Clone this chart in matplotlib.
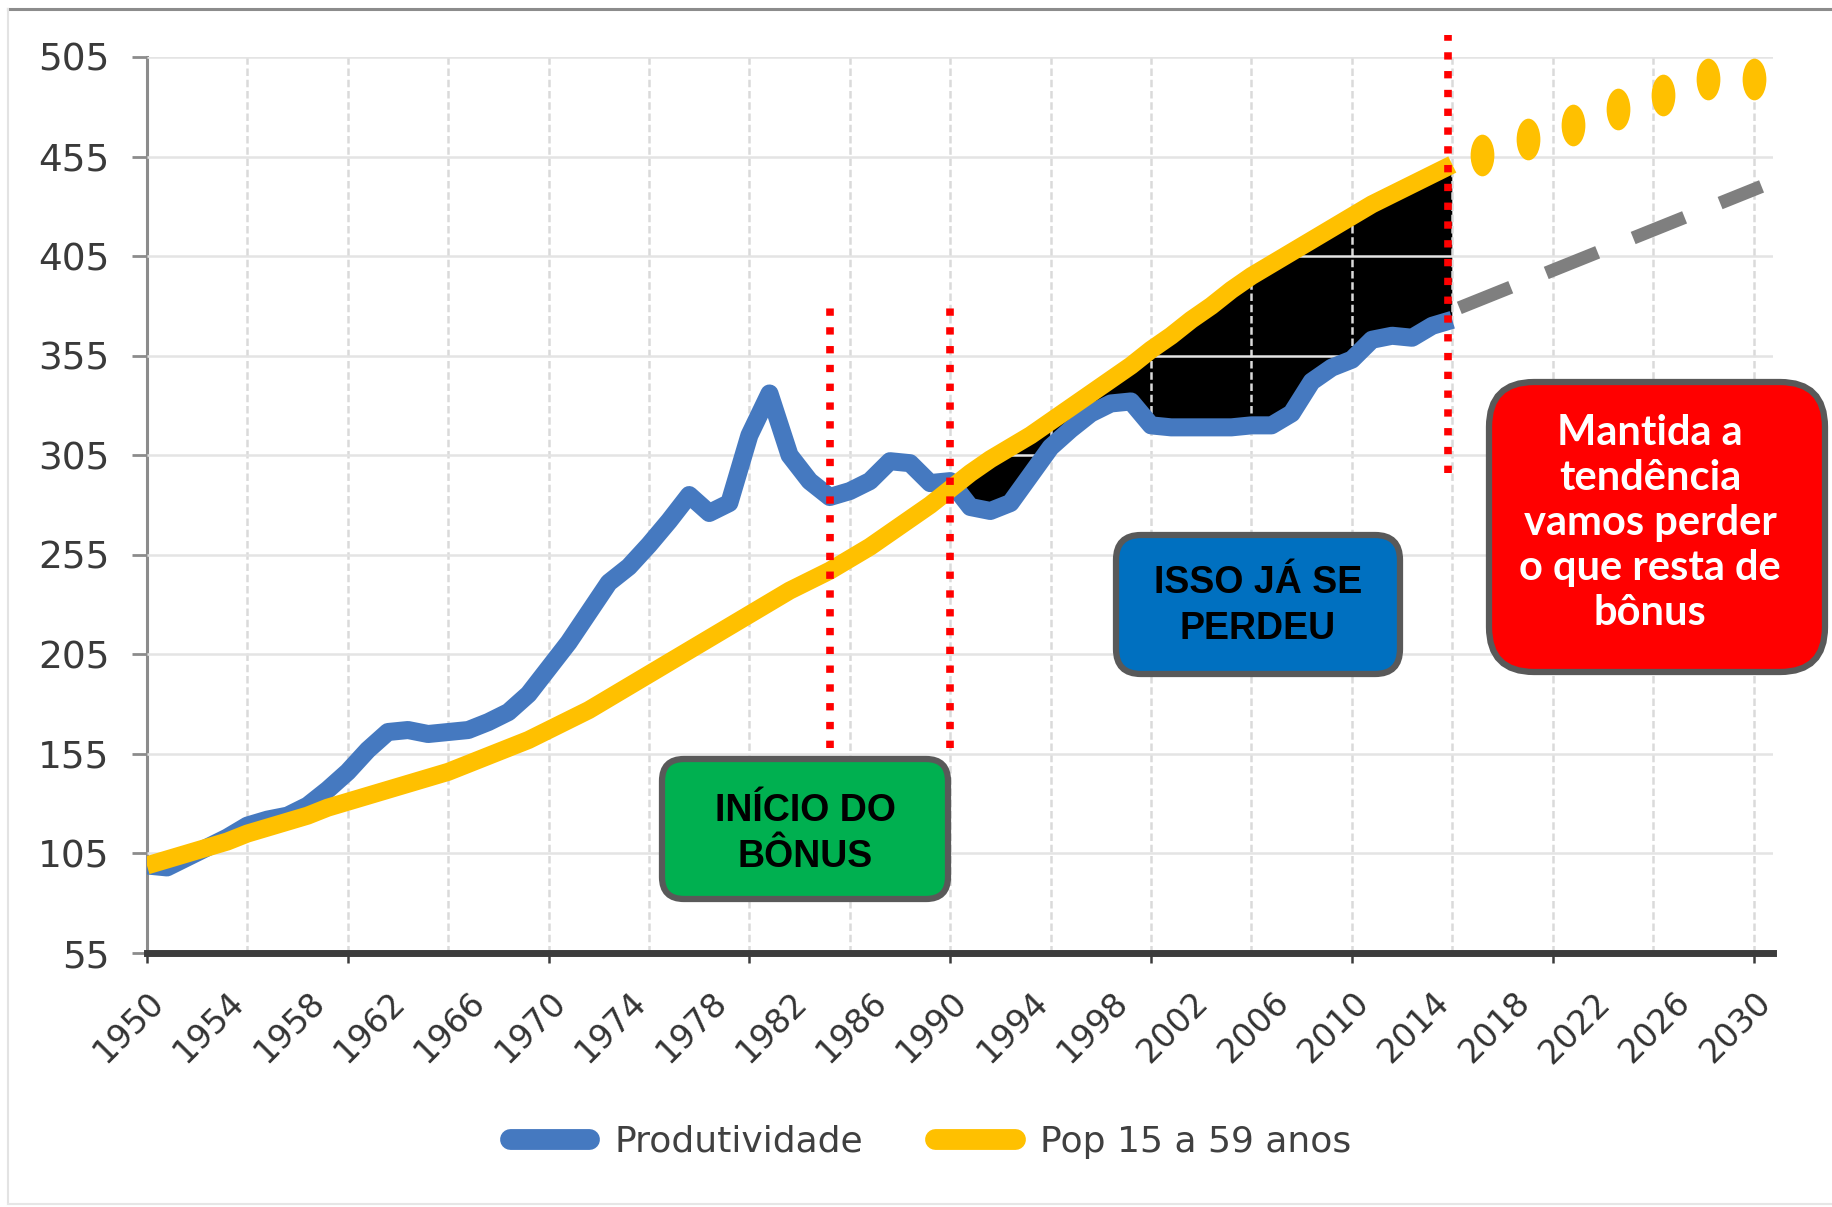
import numpy as np
import matplotlib
matplotlib.use("Agg")
import matplotlib.pyplot as plt
from matplotlib.patches import FancyBboxPatch
from matplotlib.path import Path
from matplotlib.lines import Line2D
import matplotlib.transforms as mtransforms

# ---------------- data ----------------
years = list(range(1950, 2016))
produtividade = [99, 98, 103, 108, 113, 119, 122, 124, 129, 137,
                 146, 157, 166, 167, 165, 166, 167, 171, 176, 185,
                 198, 211, 226, 241, 249, 260, 272, 285, 276, 281,
                 315, 336, 305, 292, 284, 287, 292, 302, 301, 291,
                 292, 279, 277, 281, 295, 309, 318, 326, 331, 332,
                 320, 319, 319, 319, 319, 320, 320, 326, 342, 349,
                 353, 363, 365, 364, 370, 373]
pop_15_59 = [99, 102, 105, 108, 111, 115, 118, 121, 124, 128,
             131, 134, 137, 140, 143, 146, 150, 154, 158, 162,
             167, 172, 177, 183, 189, 195, 201, 207, 213, 219,
             225, 231, 237, 242, 247, 253, 259, 266, 273, 280,
             288, 296, 303, 309, 315, 322, 329, 336, 343, 350,
             358, 365, 373, 380, 388, 395, 401, 407, 413, 419,
             425, 431, 436, 441, 446, 451]
proj_years = [2016.5, 2018.75, 2021, 2023.25, 2025.5, 2027.75, 2030]
proj_pop = [456, 464, 471, 479, 486, 494, 494]
trend_years = [2015.35, 2030.4]
trend_prod = [379, 440]
marker_years = [1984, 1990, 2014.8]
marker_spans = [(158, 379), (158, 379), (296, 516)]
y_ticks = list(range(55, 506, 50))
x_label_years = list(range(1950, 2031, 4))
x_major_years = list(range(1950, 2031, 10))
grid_years = list(range(1955, 2031, 5))

BLUE = '#4579c0'
YELLOW = '#ffc000'
GRAY = '#7f7f7f'

fig = plt.figure(figsize=(18.32, 12.07), dpi=100)
ax = fig.add_axes([0.0802, 0.2104, 0.8876, 0.7424])
ax.set_xlim(1950, 2030.97)
ax.set_ylim(55, 505)
ax.xaxis.remove_overlapping_locs = False

yrs = np.array(years)
prod = np.array(produtividade, dtype=float)
pop = np.array(pop_15_59, dtype=float)

# black area (bonus lost)
ax.fill_between(yrs, prod, pop, where=pop > prod, interpolate=True,
                color='black', lw=0, zorder=2)

# grid
ax.set_axisbelow(False)
ax.grid(axis='y', color='#e4e4e4', lw=1.8, zorder=2.5)
ax.grid(axis='x', visible=False)
ax.vlines(grid_years, 55, 505, colors='#dadada', linestyles=(0, (3, 1.5)),
          lw=1.8, zorder=2.5)

# series
ax.plot(yrs, prod, color=BLUE, lw=13, solid_joinstyle='round',
        solid_capstyle='butt', zorder=4)
ax.plot(yrs, pop, color=YELLOW, lw=13, solid_joinstyle='round',
        solid_capstyle='butt', zorder=5)

# projections
circ = Path.unit_circle()
ell = Path(circ.vertices * np.array([0.57, 1.0]), circ.codes)
ax.plot(proj_years, proj_pop, ls='none', marker=ell, ms=30, color=YELLOW,
        mec='none', clip_on=False, zorder=5)
ax.plot(trend_years, trend_prod, color=GRAY, lw=9.5, dashes=(4.2, 2.9),
        dash_capstyle='butt', clip_on=False, zorder=5)

# red dotted markers
for x, (y0, y1) in zip(marker_years, marker_spans):
    ax.plot([x, x], [y0, y1], color='#ff0000', lw=5.5, dashes=(0.96, 1.5),
            dash_capstyle='butt', clip_on=False, zorder=6)

# spines
for s in ['top', 'right']:
    ax.spines[s].set_visible(False)
ax.spines['left'].set_color('#8c8c8c')
ax.spines['left'].set_linewidth(2.2)
ax.spines['bottom'].set_color('#3c3c3c')
ax.spines['bottom'].set_linewidth(5)
ax.spines['bottom'].set_zorder(7)

# y ticks
ax.set_yticks(y_ticks)
ax.set_yticklabels([str(v) for v in y_ticks])
ax.tick_params(axis='y', length=11, width=2, color='#8c8c8c', pad=16,
               labelsize=27, labelcolor='#3a3a3a')

# x ticks: marks every 10 years, labels every 4 years
ax.set_xticks(x_major_years)
ax.set_xticklabels([])
ax.tick_params(axis='x', which='major', length=7, width=1.8, color='#3c3c3c',
               direction='out')
ax.set_xticks(x_label_years, minor=True)
ax.set_xticklabels([str(y) for y in x_label_years], minor=True)
ax.tick_params(axis='x', which='minor', length=0, pad=32, labelsize=24,
               labelcolor='#333333')
off = mtransforms.ScaledTranslation(0.12, 0, fig.dpi_scale_trans)
for lab in ax.get_xticklabels(minor=True):
    lab.set_rotation(45)
    lab.set_ha('right')
    lab.set_va('center')
    lab.set_rotation_mode('anchor')
    lab.set_transform(lab.get_transform() + off)

# legend
handles = [Line2D([], [], color=BLUE, lw=15, solid_capstyle='round'),
           Line2D([], [], color=YELLOW, lw=15, solid_capstyle='round')]
leg = ax.legend(handles, ['Produtividade', 'Pop 15 a 59 anos'], ncol=2,
                loc='center', bbox_to_anchor=(0.508, 0.054),
                bbox_transform=fig.transFigure, frameon=False,
                fontsize=26, handlelength=2.2, handletextpad=0.7,
                columnspacing=2.0, labelcolor='#404040')

# annotation boxes (in inches)
def box(x0, y0, w, h, r, fc, text, tcolor, family, size, tx, ty, ls):
    p = FancyBboxPatch((x0, y0), w, h,
                       boxstyle=f"round,pad=0,rounding_size={r}",
                       transform=fig.dpi_scale_trans, fc=fc, ec='#595959',
                       lw=4.5, zorder=10)
    fig.add_artist(p)
    fig.text(tx, ty, text, transform=fig.dpi_scale_trans, ha='center',
             va='center', color=tcolor, family=family, fontweight='bold',
             fontsize=size, linespacing=ls, zorder=11)

box(6.62, 3.08, 2.86, 1.40, 0.22, '#00b050', 'INÍCIO DO\nBÔNUS', 'black',
    'Liberation Sans', 27, 8.05, 3.73, 1.33)
box(11.16, 5.33, 2.84, 1.39, 0.25, '#0070c0', 'ISSO JÁ SE\nPERDEU', 'black',
    'Liberation Sans', 27, 12.58, 6.01, 1.33)
box(14.89, 5.35, 3.36, 2.90, 0.45, '#ff0000',
    'Mantida a\ntendência\nvamos perder\no que resta de\nbônus', 'white',
    'Lato', 30, 16.50, 6.84, 1.23)

# outer frame
fig.add_artist(Line2D([8 / 1832, 1], [1 - 9 / 1207] * 2,
                      transform=fig.transFigure, color='#8c8c8c', lw=2.2))
fig.add_artist(Line2D([8 / 1832] * 2, [3 / 1207, 1 - 9 / 1207],
                      transform=fig.transFigure, color='#e3e3e3', lw=1.5))
fig.add_artist(Line2D([8 / 1832, 1], [3 / 1207] * 2,
                      transform=fig.transFigure, color='#e6e6e6', lw=1.5))

fig.savefig('out.png', dpi=100)
